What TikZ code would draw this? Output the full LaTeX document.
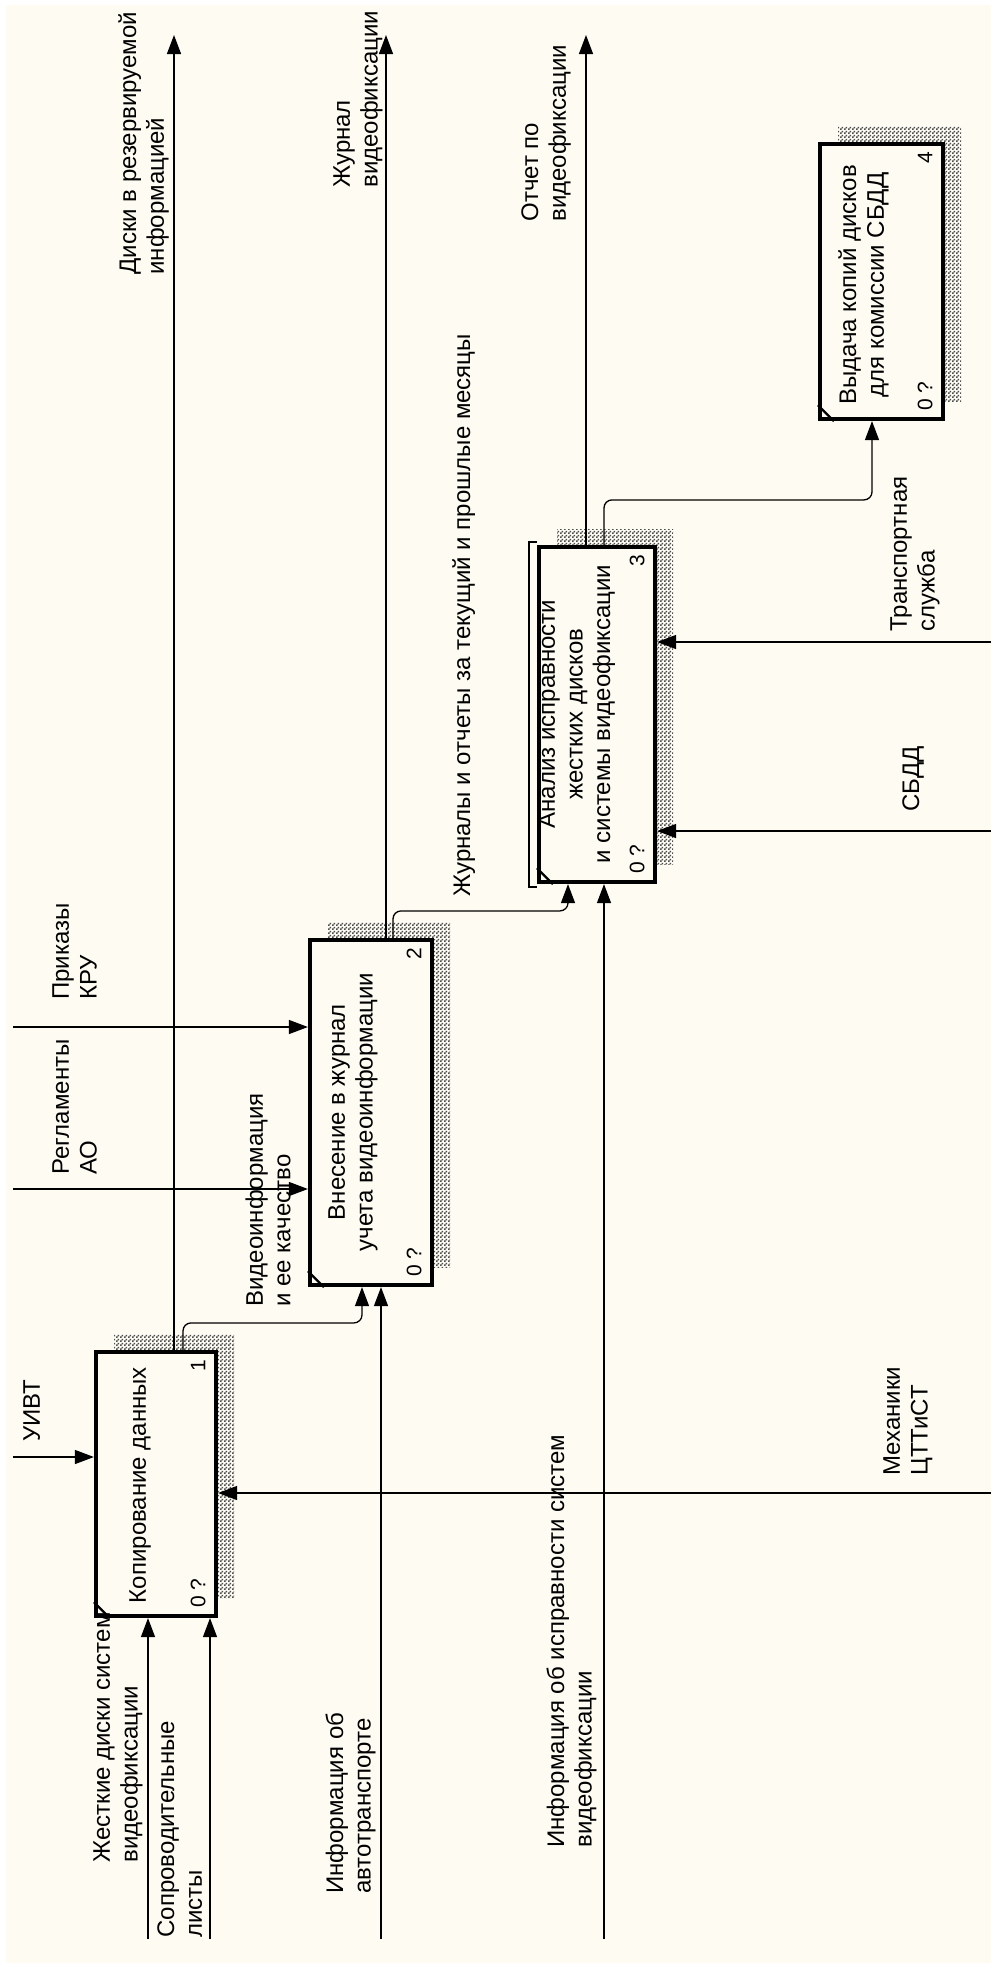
\documentclass[tikz,border=0pt]{standalone}
\usepackage{fontspec}
\setmainfont{Liberation Sans}
\usetikzlibrary{arrows.meta,patterns,shadows}
\definecolor{paper}{RGB}{253,251,242}
% fine checker for the box shadows
\pgfdeclarepatternformonly{checker}{\pgfqpoint{0pt}{0pt}}{\pgfqpoint{2pt}{2pt}}{\pgfqpoint{2pt}{2pt}}{
  \pgfpathrectangle{\pgfqpoint{0pt}{0pt}}{\pgfqpoint{1pt}{1pt}}
  \pgfpathrectangle{\pgfqpoint{1pt}{1pt}}{\pgfqpoint{1pt}{1pt}}
  \pgfusepath{fill}}

\begin{document}
\begin{tikzpicture}[x=0.5pt, y=-0.5pt,
  every node/.style={font=\fontsize{12}{13.8}\selectfont},
  arr/.style={-{Triangle[length=9.5pt,width=7pt]}, line width=0.65pt},
  func/.style 2 args={draw, line width=2.1pt, fill=paper, inner sep=0pt,
    minimum width=#1, minimum height=#2,
    general shadow={shadow xshift=9pt, shadow yshift=9pt,
      pattern=checker, pattern color=black!70}},
  ftext/.style={rotate=90, align=center, inner sep=0pt, anchor=north},
  lbl/.style={rotate=90, align=left, inner sep=0pt, anchor=north west},
  num/.style={rotate=90, inner sep=0pt, font=\fontsize{10.5}{12}\selectfont}]
  % sheet
  \fill[white] (0,0) rectangle (993,1966);
  \fill[paper] (6,5) rectangle (991,1963);
  \useasboundingbox (0,0) rectangle (993,1966);

  % functions
  \node[func={60pt}{132pt}] (f1) at (156,1484) {};
  \node[func={61pt}{172.5pt}] (f2) at (371,1112.5) {};
  \node[func={58pt}{167.5pt}] (f3) at (597,714.5) {};
  \node[func={61.5pt}{137.5pt}] (f4) at (881.5,281.5) {};
  \draw[line width=0.8pt] ([yshift=1.5pt]f3.north west) -- ++(-8,0)
    -- ([xshift=-4pt,yshift=-1.5pt]f3.south west) -- ++(8,0);
  \foreach \f/\n in {f1/1,f2/2,f3/3,f4/4} {
    \draw[line width=1.2pt] ([yshift=8pt]\f.south west) -- ([xshift=8pt]\f.south west);
    \node[num] (n\f) at ([xshift=-10pt,yshift=-8pt]\f.north east) {\n};
    \node[num] (z\f) at ([xshift=-10pt,yshift=12.5pt]\f.south east) {0 ?};
  }
  \node[ftext] (t1) at (129,1485) {Копирование данных};
  \node[ftext] (t2) at (328,1112) {Внесение в журнал\\учета видеоинформации};
  \node[ftext] (t3) at (538,714) {Анализ исправности\\жестких дисков\\и системы видеофиксации};
  \node[ftext] (t4) at (838,285) {Выдача копий дисков\\для комиссии СБДД};

  % free ends
  \coordinate (o1) at (174,35);
  \coordinate (o2) at (386,35);
  \coordinate (o3) at (586,35);
  \coordinate (i1) at (148,1939);
  \coordinate (i2) at (210,1939);
  \coordinate (i3) at (381,1939);
  \coordinate (i4) at (604,1939);
  \coordinate (c1) at (13,1457);
  \coordinate (c2) at (13,1027);
  \coordinate (c3) at (13,1189);
  \coordinate (m1) at (991,1493);
  \coordinate (m2) at (991,642);
  \coordinate (m3) at (991,831);

  % arrows
  \draw[arr] (o1 |- f1.north) -- (o1);
  \draw[arr] (o2 |- f2.north) -- (o2);
  \draw[arr] (o3 |- f3.north) -- (o3);
  \draw[arr, rounded corners=4pt] ([xshift=13.5pt]f1.north) -- ++(0,-27) -| ([xshift=-4.5pt]f2.south);
  \draw[arr, rounded corners=4pt] ([xshift=11pt]f2.north) -- ++(0,-27) -| ([xshift=-14.5pt]f3.south);
  \draw[arr, rounded corners=4pt] ([xshift=3.5pt]f3.north) -- ++(0,-45) -| ([xshift=-4.75pt]f4.south);
  \draw[arr] (i1) -- (i1 |- f1.south);
  \draw[arr] (i2) -- (i2 |- f1.south);
  \draw[arr] (i3) -- (i3 |- f2.south);
  \draw[arr] (i4) -- (i4 |- f3.south);
  \draw[arr] (c1) -- (c1 -| f1.west);
  \draw[arr] (c2) -- (c2 -| f2.west);
  \draw[arr] (c3) -- (c3 -| f2.west);
  \draw[arr] (m1) -- (m1 -| f1.east);
  \draw[arr] (m2) -- (m2 -| f3.east);
  \draw[arr] (m3) -- (m3 -| f3.east);

  % labels
  \node[lbl] (ld) at (118,275) {Диски в резервируемой\\информацией};
  \node[lbl] (lj) at (333,188) {Журнал\\видеофиксации};
  \node[lbl] (lo) at (521,222) {Отчет по\\видеофиксации};
  \node[lbl] (lm) at (452,897) {Журналы и отчеты за текущий и прошлые месяцы};
  \node[lbl] (lp) at (52,1000) {Приказы\\КРУ};
  \node[lbl] (lr) at (52,1175) {Регламенты\\АО};
  \node[lbl] (lv) at (245,1307) {Видеоинформация\\и ее качество};
  \node[lbl] (lu) at (23,1442) {УИВТ};
  \node[lbl] (lh) at (93,1863) {Жесткие диски систем\\видеофиксации};
  \node[lbl] (ls) at (157,1938) {Сопроводительные\\листы};
  \node[lbl] (la) at (325,1894) {Информация об\\автотранспорте};
  \node[lbl] (li) at (546,1848) {Информация об исправности систем\\видеофиксации};
  \node[lbl] (lme) at (883,1476) {Механики\\ЦТТиСТ};
  \node[lbl] (lt) at (890,632) {Транспортная\\служба};
  \node[lbl] (lsb) at (902,812) {СБДД};
\end{tikzpicture}
\end{document}
